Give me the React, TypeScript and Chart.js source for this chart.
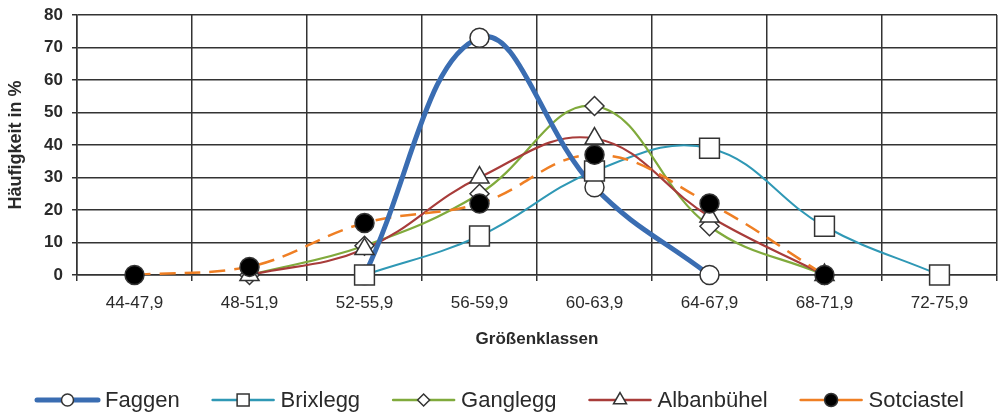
import React, { useEffect, useRef } from "react";
import { Chart, registerables } from "chart.js";

Chart.register(...registerables);

// ---- data ----
const categories = ["44-47,9", "48-51,9", "52-55,9", "56-59,9", "60-63,9", "64-67,9", "68-71,9", "72-75,9"];
const faggen = [null, null, 0, 73, 27, 0, null, null];
const brixlegg = [null, null, 0, 12, 32, 39, 15, 0];
const ganglegg = [null, 0, 9, 25, 52, 15, 0, null];
const albanbuehel = [null, 0, 8, 30, 42, 18, 0, null];
const sotciastel = [0, 2.5, 16, 22, 37, 22, 0, null];
const yMin = 0;
const yMax = 80;
const yStep = 10;
const xTitle = "Größenklassen";
const yTitle = "Häufigkeit in %";

// ---- styles ----
const FONT = '"Liberation Sans", Arial, Helvetica, sans-serif';
const TEXT = "#2a2a2a";
const GRID = "#333333";
const MARK_BORDER = "#333333";

type Series = {
  label: string;
  data: (number | null)[];
  color: string;
  width: number;
  dash: number[];
  marker: "circle" | "rect" | "rectRot" | "triangle";
  markerRadius: number;
  markerFill: string;
  legendWidth: number;
  legendMarker: number;
};

const SERIES: Series[] = [
  { label: "Faggen", data: faggen, color: "#3a6db2", width: 5, dash: [], marker: "circle", markerRadius: 9.5, markerFill: "#ffffff", legendWidth: 5, legendMarker: 6 },
  { label: "Brixlegg", data: brixlegg, color: "#2f98b5", width: 2, dash: [], marker: "rect", markerRadius: 14, markerFill: "#ffffff", legendWidth: 2.5, legendMarker: 8.5 },
  { label: "Ganglegg", data: ganglegg, color: "#80aa3c", width: 2.2, dash: [], marker: "rectRot", markerRadius: 9.5, markerFill: "#ffffff", legendWidth: 2.5, legendMarker: 6 },
  { label: "Albanbühel", data: albanbuehel, color: "#a83c3a", width: 2.2, dash: [], marker: "triangle", markerRadius: 11, markerFill: "#ffffff", legendWidth: 2.5, legendMarker: 7.5 },
  { label: "Sotciastel", data: sotciastel, color: "#ef7f24", width: 2.5, dash: [16, 9], marker: "circle", markerRadius: 9.5, markerFill: "#000000", legendWidth: 2.5, legendMarker: 6.5 },
];

function drawMarker(ctx: CanvasRenderingContext2D, style: string, x: number, y: number, r: number, fill: string) {
  ctx.beginPath();
  if (style === "circle") {
    ctx.arc(x, y, r, 0, Math.PI * 2);
  } else if (style === "rect") {
    const s = r * Math.SQRT1_2;
    ctx.rect(x - s, y - s, 2 * s, 2 * s);
  } else if (style === "rectRot") {
    ctx.moveTo(x - r, y);
    ctx.lineTo(x, y - r);
    ctx.lineTo(x + r, y);
    ctx.lineTo(x, y + r);
    ctx.closePath();
  } else if (style === "triangle") {
    ctx.moveTo(x, y - r);
    ctx.lineTo(x + r * 0.866, y + r * 0.5);
    ctx.lineTo(x - r * 0.866, y + r * 0.5);
    ctx.closePath();
  }
  ctx.fillStyle = fill;
  ctx.fill();
  ctx.lineWidth = 1.5;
  ctx.strokeStyle = MARK_BORDER;
  ctx.setLineDash([]);
  ctx.stroke();
}

const legendPlugin = {
  id: "lineLegend",
  afterDraw(chart: any) {
    const ctx: CanvasRenderingContext2D = chart.ctx;
    ctx.save();
    ctx.font = `22px ${FONT}`;
    const lineLen = 65;
    const gapText = 5;
    const gapItem = 31;
    const widths = SERIES.map((s) => ctx.measureText(s.label).width);
    const total =
      widths.reduce((a, b) => a + b, 0) + SERIES.length * (lineLen + gapText) + (SERIES.length - 1) * gapItem;
    let x = (chart.width - total) / 2;
    const y = 400;
    SERIES.forEach((s, i) => {
      ctx.strokeStyle = s.color;
      ctx.lineWidth = s.legendWidth;
      ctx.lineCap = "round";
      ctx.setLineDash([]);
      ctx.beginPath();
      ctx.moveTo(x + 2, y);
      ctx.lineTo(x + lineLen - 2, y);
      ctx.stroke();
      ctx.lineCap = "butt";
      drawMarker(ctx, s.marker, x + lineLen / 2, y, s.legendMarker, s.markerFill);
      ctx.fillStyle = TEXT;
      ctx.textBaseline = "middle";
      ctx.textAlign = "left";
      ctx.fillText(s.label, x + lineLen + gapText, y + 1);
      x += lineLen + gapText + widths[i] + gapItem;
    });
    ctx.restore();
  },
};

export default function App() {
  const ref = useRef<HTMLCanvasElement | null>(null);

  useEffect(() => {
    if (!ref.current) return;
    const lineSets = SERIES.map((s, i) => ({
      label: s.label,
      data: s.data,
      borderColor: s.color,
      backgroundColor: s.color,
      borderWidth: s.width,
      borderDash: s.dash,
      borderCapStyle: s.dash.length ? "butt" : "round",
      pointRadius: 0,
      pointHoverRadius: 0,
      tension: 0.4,
      fill: false,
      order: i === 0 ? 5 : 10 - i,
    }));
    const markSets = SERIES.map((s, i) => ({
      label: s.label + " marker",
      data: s.data,
      showLine: false,
      clip: false,
      pointStyle: s.marker,
      pointRadius: s.markerRadius,
      pointBackgroundColor: s.markerFill,
      pointBorderColor: MARK_BORDER,
      pointBorderWidth: 1.5,
      borderColor: s.color,
      backgroundColor: s.markerFill,
      order: 4 - i,
    }));

    const chart = new Chart(ref.current, {
      type: "line",
      data: { labels: categories, datasets: [...lineSets, ...markSets] as any },
      plugins: [legendPlugin],
      options: {
        animation: false,
        responsive: false,
        devicePixelRatio: 1,
        layout: { autoPadding: false, padding: { left: 0, right: 2, top: 15, bottom: 63 } },
        plugins: {
          legend: { display: false },
          tooltip: { enabled: false },
        },
        scales: {
          x: {
            offset: true,
            grid: { offset: true, color: GRID, lineWidth: 1.5, tickLength: 6, tickColor: GRID, drawTicks: true },
            border: { color: GRID, width: 1.5 },
            ticks: { color: TEXT, font: { family: FONT, size: 17 }, padding: 12, maxRotation: 0, autoSkip: false },
            title: { display: true, text: xTitle, color: TEXT, font: { family: FONT, size: 17, weight: "bold" }, padding: { top: 4, bottom: 2 } },
            afterFit: (scale: any) => {
              scale.height = 77;
              scale.paddingLeft = 0;
              scale.paddingRight = 0;
            },
          },
          y: {
            min: yMin,
            max: yMax,
            ticks: { stepSize: yStep, color: TEXT, font: { family: FONT, size: 17, weight: "bold" }, padding: 9 },
            grid: { color: GRID, lineWidth: 1.5, tickLength: 5, tickColor: GRID },
            border: { color: GRID, width: 1.5 },
            title: { display: true, text: yTitle, color: TEXT, font: { family: FONT, size: 18, weight: "bold" }, padding: { top: 5, bottom: 0 } },
            afterFit: (scale: any) => {
              scale.width = 77;
              scale.paddingTop = 0;
              scale.paddingBottom = 0;
            },
          },
        },
      } as any,
    });
    return () => chart.destroy();
  }, []);

  return (
    <div style={{ position: "fixed", left: 0, top: 0, width: 999, height: 415, background: "#ffffff" }}>
      <canvas ref={ref} width={999} height={415} style={{ width: 999, height: 415, display: "block" }} />
    </div>
  );
}
